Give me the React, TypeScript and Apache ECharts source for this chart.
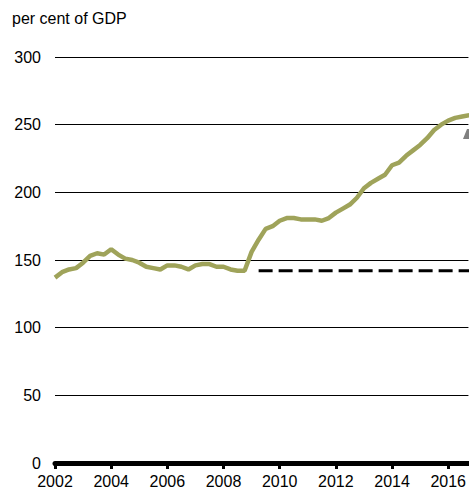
import React, { useEffect, useRef } from "react";
import * as echarts from "echarts";

const startYear = 2002;
const quarterStep = 0.25;
const debtValues = [
  137, 141, 143, 144, 148, 153, 155, 154,
  158, 154, 151, 150, 148, 145, 144, 143,
  146, 146, 145, 143, 146, 147, 147, 145,
  145, 143, 142, 142, 156, 165, 173, 175,
  179, 181, 181, 180, 180, 180, 179, 181,
  185, 188, 191, 196, 203, 207, 210, 213,
  220, 222, 227, 231, 235, 240, 246, 250,
  253, 255, 256, 257,
];
const referenceLine = [
  [2009.25, 142],
  [2016.75, 142],
];
const xTickYears = [2002, 2004, 2006, 2008, 2010, 2012, 2014, 2016];
const yTitle = "per cent of GDP";

export default function App() {
  const ref = useRef<HTMLDivElement>(null);
  useEffect(() => {
    document.body.style.margin = "0";
    const chart = echarts.init(ref.current!, null, { renderer: "svg" });
    const lineData = debtValues.map((v, i) => [startYear + i * quarterStep, v]);
    const font = "Liberation Sans, Arial, sans-serif";
    chart.setOption({
      animation: false,
      grid: { left: 55, right: 0, top: 57, bottom: 26, containLabel: false },
      graphic: [
        {
          type: "text",
          left: 12,
          top: 10,
          style: { text: yTitle, fontSize: 16, fontFamily: font, fill: "#000" },
        },
        {
          type: "polygon",
          shape: { points: [[463, 139], [467, 129], [469, 129], [469, 139]] },
          style: { fill: "#808080" },
          z: 10,
        },
      ],
      xAxis: {
        type: "value",
        min: 2002,
        max: 2016.72,
        interval: 2,
        axisLine: { show: true, lineStyle: { color: "#000", width: 5 } },
        axisTick: {
          show: true,
          length: 6,
          lineStyle: { color: "#000", width: 3 },
          customValues: xTickYears,
        },
        axisLabel: {
          customValues: xTickYears,
          color: "#000",
          fontSize: 16,
          fontFamily: font,
          margin: 10,
          formatter: (v: number) => String(Math.round(v)),
        },
        splitLine: { show: false },
      },
      yAxis: {
        type: "value",
        min: 0,
        max: 300,
        interval: 50,
        axisLine: { show: false },
        axisTick: { show: false },
        axisLabel: { color: "#000", fontSize: 16, fontFamily: font, margin: 14 },
        splitLine: { show: true, lineStyle: { color: "#000", width: 1.2 } },
      },
      series: [
        {
          type: "line",
          data: lineData,
          showSymbol: false,
          symbol: "none",
          lineStyle: { color: "#9FA35A", width: 4.5 },
          z: 3,
        },
        {
          type: "line",
          data: referenceLine,
          showSymbol: false,
          symbol: "none",
          lineStyle: { color: "#000", width: 3, type: [14, 6] },
          z: 2,
        },
      ],
    });
    return () => chart.dispose();
  }, []);
  return <div ref={ref} style={{ width: 469, height: 489 }} />;
}
